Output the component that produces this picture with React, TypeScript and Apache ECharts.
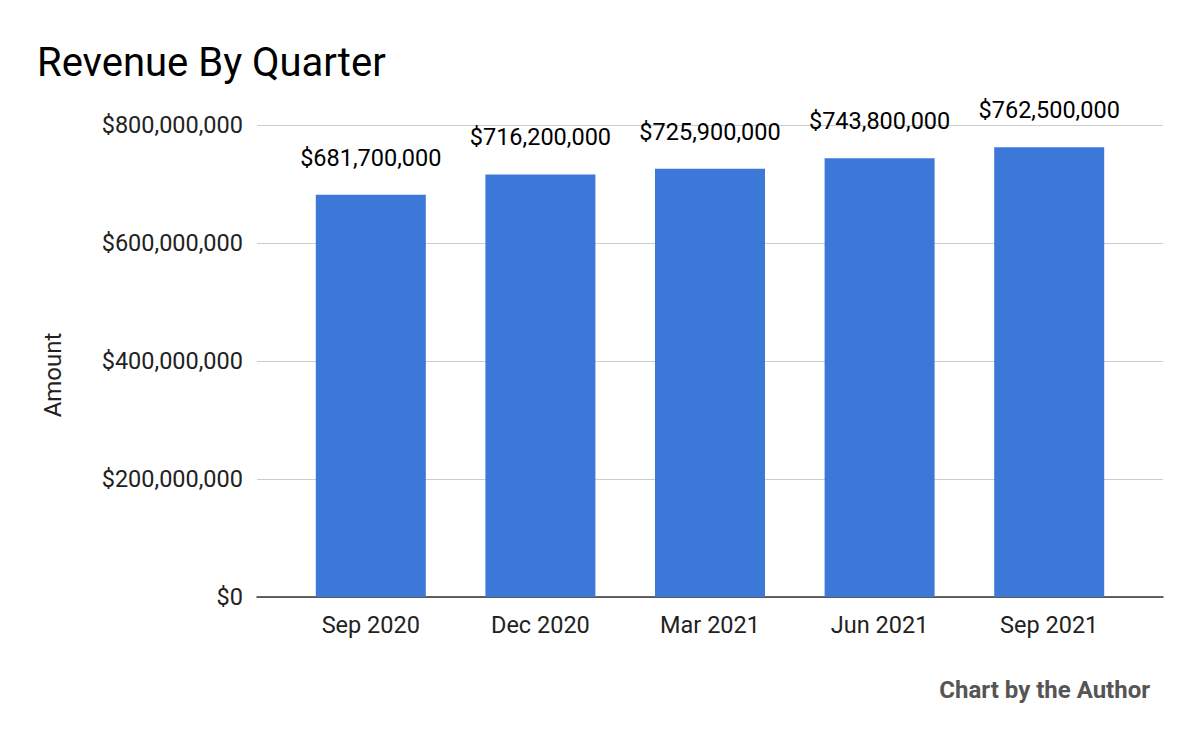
import { useEffect, useRef } from 'react';
import * as echarts from 'echarts';

const quarters = ['Sep 2020', 'Dec 2020', 'Mar 2021', 'Jun 2021', 'Sep 2021'];
const revenue = [681700000, 716200000, 725900000, 743800000, 762500000];
const yTicks = { min: 0, max: 800000000, interval: 200000000 };

const money = (v: number) => '$' + v.toLocaleString('en-US');

export default function App() {
  const chartRef = useRef<HTMLDivElement>(null);

  useEffect(() => {
    if (!chartRef.current) return;
    const chart = echarts.init(chartRef.current, null, { renderer: 'svg' });

    const option = {
      animation: false,
      textStyle: { fontFamily: 'Roboto' },
      title: {
        text: 'Revenue By Quarter',
        left: 32,
        top: 37,
        textStyle: { fontFamily: 'Roboto', fontSize: 40, fontWeight: 'normal', color: '#000' },
      },
      graphic: [
        {
          type: 'text',
          right: 50,
          top: 678,
          style: {
            text: 'Chart by the Author',
            font: 'bold 24px Roboto',
            fill: '#555',
          },
        },
        {
          // axis title, placed like the original (a bit below the plot's middle)
          type: 'text',
          x: 53,
          y: 375,
          rotation: Math.PI / 2,
          style: {
            text: 'Amount',
            font: '24px Roboto',
            fill: '#222',
            align: 'center',
            verticalAlign: 'middle',
          },
        },
      ],
      grid: [
        // bars
        { left: 286, right: 66, top: 125, bottom: 145 },
        // full-width gridlines + labels
        { left: 257, right: 37, top: 125, bottom: 145 },
      ],
      xAxis: [
        {
          type: 'category',
          gridIndex: 0,
          data: quarters,
          axisLine: { show: false },
          axisTick: { show: false },
          axisLabel: { fontSize: 23.5, color: '#222', margin: 16 },
        },
        {
          type: 'value',
          gridIndex: 1,
          show: true,
          axisLine: { show: true, onZero: false, lineStyle: { color: '#333', width: 1.5 } },
          axisTick: { show: false },
          axisLabel: { show: false },
          splitLine: { show: false },
        },
      ],
      yAxis: [
        {
          type: 'value',
          gridIndex: 0,
          ...yTicks,
          show: false,
          splitLine: { show: false },
        },
        {
          type: 'value',
          gridIndex: 1,
          ...yTicks,
          axisLine: { show: false },
          axisTick: { show: false },
          axisLabel: { fontSize: 23.5, color: '#222', margin: 14, formatter: (v: number) => money(v) },
          splitLine: { show: true, lineStyle: { color: '#ccc', width: 1 } },
        },
      ],
      series: [
        {
          type: 'bar',
          xAxisIndex: 0,
          yAxisIndex: 0,
          data: revenue,
          barWidth: 110,
          itemStyle: { color: '#3c78d8' },
          label: {
            show: true,
            position: 'top',
            distance: 25,
            fontSize: 23.5,
            color: '#000',
            formatter: (p: any) => money(p.value),
          },
          z: 3,
        },
      ],
    };

    chart.setOption(option);
    return () => chart.dispose();
  }, []);

  return (
    <div
      ref={chartRef}
      style={{ position: 'fixed', left: 0, top: 0, width: 1200, height: 742, background: '#fff' }}
    />
  );
}
